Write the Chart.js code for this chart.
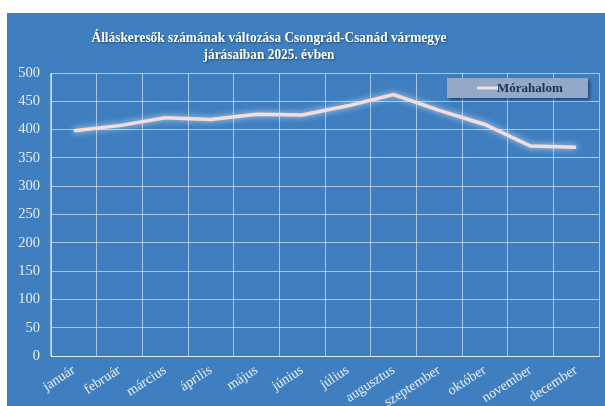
<!DOCTYPE html>
<html>
<head>
<meta charset="utf-8">
<script src="https://cdn.jsdelivr.net/npm/chart.js@4"></script>
<style>
  html, body { margin: 0; padding: 0; background: #ffffff; }
  #wrap { position: absolute; left: 7px; top: 13px; width: 598px; height: 393px; background: #3f7fc0; }
  canvas { display: block; }
</style>
</head>
<body>
<div id="wrap"><canvas id="c" width="598" height="393"></canvas></div>
<script>
const titleLines = ["Álláskeresők számának változása Csongrád-Csanád vármegye", "járásaiban 2025. évben"];
const months = ["január", "február", "március", "április", "május", "június", "július", "augusztus", "szeptember", "október", "november", "december"];
const seriesName = "Mórahalom";
const moraValues = [398, 407, 421, 418, 427, 426, 442, 462, 434, 409, 371, 369];
const yMin = 0, yMax = 500, yStep = 50;

const serif = "'Liberation Serif', 'Times New Roman', serif";

const glowPlugin = {
  id: 'glow',
  beforeDatasetsDraw(chart) {
    const ctx = chart.ctx;
    ctx.save();
    ctx.shadowColor = 'rgba(255,255,255,0.75)';
    ctx.shadowBlur = 6;
  },
  afterDatasetsDraw(chart) {
    chart.ctx.restore();
  }
};

const titlePlugin = {
  id: 'customTitle',
  afterDraw(chart) {
    const ctx = chart.ctx;
    ctx.save();
    ctx.font = "bold 15.5px " + serif;
    const w = ctx.measureText(titleLines[0]).width;
    const sx = 355 / w;
    ctx.fillStyle = '#ffffff';
    ctx.textAlign = 'center';
    ctx.textBaseline = 'middle';
    ctx.shadowColor = 'rgba(0,0,0,0.45)';
    ctx.shadowOffsetX = 1;
    ctx.shadowOffsetY = 1;
    ctx.shadowBlur = 2;
    titleLines.forEach((t, i) => {
      ctx.save();
      ctx.translate(262, 25 + i * 17);
      ctx.scale(sx, 1);
      ctx.fillText(t, 0, 0);
      ctx.restore();
    });
    ctx.restore();
  }
};

const legendPlugin = {
  id: 'boxLegend',
  afterDatasetsDraw(chart) {
    const ctx = chart.ctx;
    const a = chart.chartArea;
    const ds = chart.data.datasets[0];
    const x = a.right - 152, y = a.top + 5, w = 141, h = 20;
    ctx.save();
    ctx.shadowColor = 'rgba(0,0,30,0.45)';
    ctx.shadowOffsetX = 2;
    ctx.shadowOffsetY = 2;
    ctx.shadowBlur = 3;
    ctx.fillStyle = '#93a9c7';
    ctx.fillRect(x, y, w, h);
    ctx.restore();
    ctx.save();
    ctx.strokeStyle = ds.borderColor;
    ctx.lineWidth = 3;
    ctx.beginPath();
    ctx.moveTo(x + 30, y + h / 2);
    ctx.lineTo(x + 51, y + h / 2);
    ctx.stroke();
    ctx.font = "bold 13px " + serif;
    ctx.fillStyle = '#1f3050';
    ctx.textAlign = 'left';
    ctx.textBaseline = 'middle';
    ctx.fillText(ds.label, x + 50, y + h / 2 + 1);
    ctx.restore();
  }
};

new Chart(document.getElementById('c'), {
  type: 'line',
  data: {
    labels: months,
    datasets: [{
      label: seriesName,
      data: moraValues,
      borderColor: '#f7dcdc',
      borderWidth: 3.5,
      pointRadius: 0,
      tension: 0,
      fill: false
    }]
  },
  options: {
    responsive: false,
    animation: false,
    devicePixelRatio: 1,
    layout: { padding: { top: 60, right: 6, left: 0, bottom: 0 } },
    plugins: {
      legend: { display: false },
      title: { display: false },
      tooltip: { enabled: false }
    },
    scales: {
      x: {
        offset: true,
        grid: { offset: true, color: 'rgba(255,255,255,0.55)', lineWidth: 1, drawTicks: false },
        border: { color: 'rgba(255,255,255,0.7)' },
        ticks: {
          color: '#e4ecf7',
          font: { family: serif, size: 14 },
          minRotation: 33, maxRotation: 33,
          padding: 6,
          autoSkip: false
        },
        afterFit(s) { s.height = 50; }
      },
      y: {
        min: yMin, max: yMax,
        grid: { color: 'rgba(255,255,255,0.55)', lineWidth: 1, drawTicks: false },
        border: { color: 'rgba(255,255,255,0.7)' },
        ticks: {
          stepSize: yStep,
          color: '#e4ecf7',
          font: { family: serif, size: 14.5 },
          padding: 11
        },
        afterFit(s) { s.width = 44; }
      }
    }
  },
  plugins: [glowPlugin, titlePlugin, legendPlugin]
});
</script>
</body>
</html>
